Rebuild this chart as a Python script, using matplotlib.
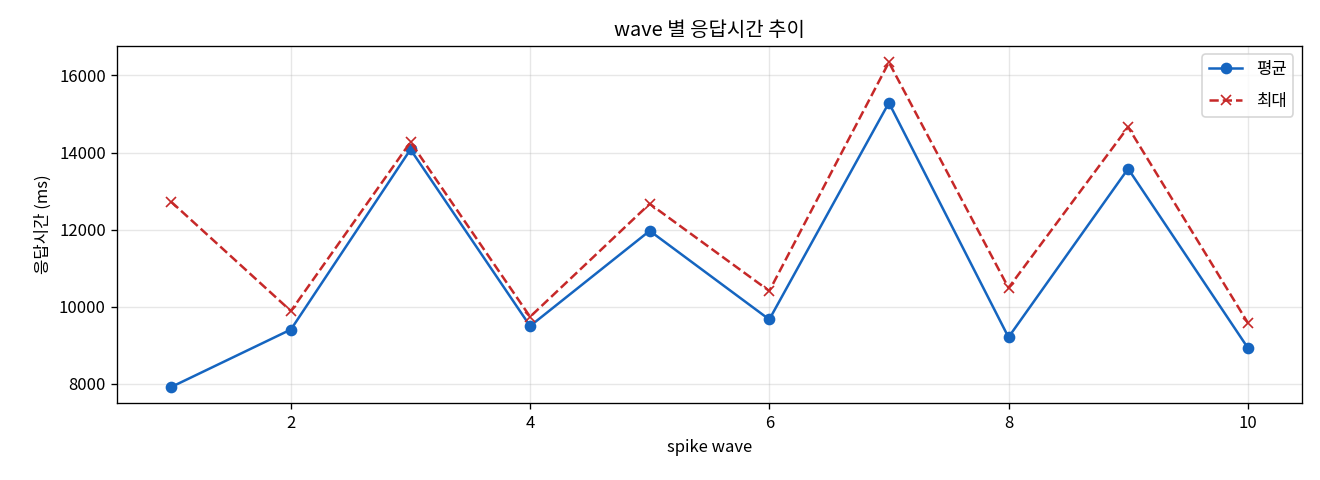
import matplotlib
matplotlib.use("Agg")
import matplotlib.pyplot as plt

plt.rcParams['font.family'] = ['Noto Sans CJK KR', 'DejaVu Sans']
plt.rcParams['axes.unicode_minus'] = False

# wave별 응답시간 (ms)
waves = [1, 2, 3, 4, 5, 6, 7, 8, 9, 10]
avg_ms = [7920, 9410, 14080, 9500, 11970, 9670, 15290, 9210, 13580, 8940]
max_ms = [12720, 9890, 14270, 9740, 12670, 10410, 16340, 10490, 14660, 9590]

fig, ax = plt.subplots(figsize=(11, 4), dpi=120)
ax.plot(waves, avg_ms, marker='o', color='#1565C0', label='평균')
ax.plot(waves, max_ms, marker='x', linestyle='--', color='#C62828', label='최대')
ax.set_title("wave 별 응답시간 추이")
ax.set_xlabel("spike wave")
ax.set_ylabel("응답시간 (ms)")
ax.grid(alpha=0.3)
ax.legend(loc='upper right', labelspacing=0.9)
fig.subplots_adjust(left=0.089, right=0.986, top=0.904, bottom=0.16)
plt.savefig("out.png")
